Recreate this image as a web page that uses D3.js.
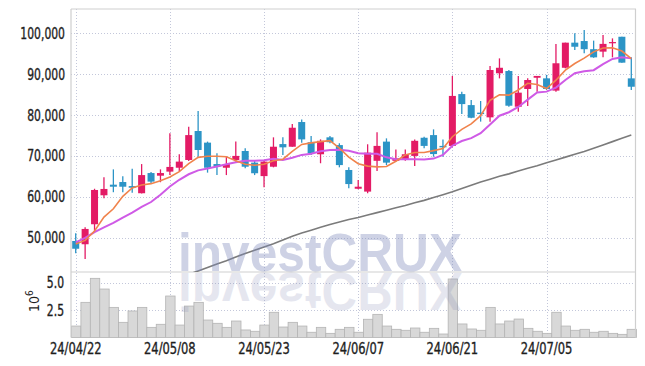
<!DOCTYPE html>
<html>
<head>
<meta charset="utf-8">
<script src="https://cdn.jsdelivr.net/npm/d3@7"></script>
<style>
  body { margin: 0; background: #fff; }
  svg { display: block; }
</style>
</head>
<body>
<div id="chart"></div>
<script>
// trading days shown on the chart
var dates = ["24/04/22","24/04/23","24/04/24","24/04/25","24/04/26","24/04/29","24/04/30","24/05/02","24/05/03","24/05/07",
  "24/05/08","24/05/09","24/05/10","24/05/13","24/05/14","24/05/16","24/05/17","24/05/20","24/05/21","24/05/22",
  "24/05/23","24/05/24","24/05/27","24/05/28","24/05/29","24/05/30","24/05/31","24/06/03","24/06/04","24/06/05",
  "24/06/07","24/06/10","24/06/11","24/06/12","24/06/13","24/06/14","24/06/17","24/06/18","24/06/19","24/06/20",
  "24/06/21","24/06/24","24/06/25","24/06/26","24/06/27","24/06/28","24/07/01","24/07/02","24/07/03","24/07/04",
  "24/07/05","24/07/08","24/07/09","24/07/10","24/07/11","24/07/12","24/07/15","24/07/16","24/07/17","24/07/18"];

var tickDates = ["24/04/22","24/05/08","24/05/23","24/06/07","24/06/21","24/07/05"];
var priceTicks = [50000, 60000, 70000, 80000, 90000, 100000];
var volTicks = [2.5, 5.0];

var open  = [49150,48350,53250,60350,62950,63600,62600,60850,65800,65150,
  66150,67100,69000,76100,73250,68000,67100,69000,71200,68350,
  65050,67350,72900,72250,78300,73350,70400,74550,72650,66550,
  61950,61250,68800,73500,68800,69250,70000,74450,75100,72450,
  72450,85150,82450,80600,79450,90250,90800,82050,86400,89150,
  89000,86000,91600,97750,98150,96150,95550,97600,99200,89000];
var high  = [51050,52500,61950,64750,66700,65000,66850,68000,66050,66700,
  75550,70400,77150,81000,73500,70650,69800,73500,71850,69000,
  69000,74550,74550,77800,78950,74900,74050,74900,73100,67200,
  64100,72850,75800,74300,71600,71600,74050,74700,76500,74050,
  89600,85750,83700,83450,92050,93900,91050,89600,89000,89600,
  89850,97450,97750,100050,100850,98250,99650,98800,99200,94150];
var low   = [46150,44750,51400,59600,61100,61100,61000,60800,63300,63550,
  65300,66150,68750,69800,65900,65300,65300,68600,66950,65300,
  62300,67200,70200,72250,73250,70200,68200,73100,67200,62050,
  61800,60850,66300,67750,68600,68800,67500,71850,69800,69800,
  72100,80250,79200,78400,78400,89000,82050,80850,82250,85750,
  86150,85750,91450,95950,95150,94050,94150,94150,92850,86150];
var close = [47250,52100,61650,61900,62450,62450,62200,65300,63700,65800,
  67300,68600,75100,71450,67100,67350,68000,70000,67350,65750,
  68600,72250,72100,76900,74050,70650,73700,73350,67750,63100,
  62450,70800,72450,68350,69400,70400,73700,72450,70450,72100,
  84700,82700,79350,80250,91050,91600,82300,85500,88600,89600,
  86400,92700,97750,96750,96150,94150,97450,97900,92850,86950];

// volume in millions of shares
var volume = [1.05,3.22,5.42,4.44,2.76,1.39,2.43,2.76,0.93,1.21,
  3.80,1.14,2.88,3.22,1.60,1.30,0.93,1.51,0.69,0.57,
  1.14,2.31,0.96,1.39,1.05,0.48,0.93,0.38,0.75,0.93,
  0.48,1.67,2.12,1.05,0.75,0.66,0.87,0.48,0.84,0.32,
  5.36,1.24,0.78,0.66,2.76,1.24,1.51,1.69,0.84,0.57,
  0.38,2.31,1.05,0.66,0.75,0.48,0.57,0.38,0.29,0.75];

// moving averages as drawn
var ma5 = [48400,49300,51600,55000,57050,60100,62150,62850,63200,63900,
  64850,66150,68100,69650,69900,69900,69800,68800,67950,67700,
  67950,68800,69200,71100,72800,73200,73500,73750,71900,69700,
  68100,67500,67300,67400,68700,70250,70850,70850,71300,71800,
  74700,76500,77850,79850,83600,85000,84900,86150,87800,87500,
  86500,88550,91000,92650,93950,95500,96450,96500,95700,93850];
var ma10 = [48800,49900,51300,52500,53600,54900,56100,57500,58700,60500,
  62500,64150,65500,66450,66900,67400,67950,68450,68800,68800,
  68950,69300,69000,69550,70250,70550,71150,71450,71500,71250,
  70650,70500,70500,69650,69200,69150,69150,69100,69350,70250,
  72500,73650,74350,75550,77700,79850,80700,82000,83800,85550,
  85750,86750,88600,90250,90750,91000,92500,93750,94150,93900];
var maLong = [null,null,null,null,null,null,null,null,null,null,
  null,null,41000,41800,42650,43500,44300,45250,46100,46900,
  47700,48500,49400,50300,51100,51800,52500,53200,53800,54400,
  54900,55500,56100,56700,57300,57850,58500,59100,59800,60500,
  61200,62000,62800,63600,64300,65000,65600,66300,67000,67600,
  68300,69000,69700,70400,71100,71900,72700,73500,74300,75100];

var W = 645, H = 366;
var plotLeft = 71, plotRight = 636, plotTop = 9, priceBottom = 272, volBottom = 337.5;
var upColor = "#e31b65", downColor = "#2c94c6";
var labelFont = "'DejaVu Sans Condensed','DejaVu Sans',sans-serif";
var squeeze = 0.8;   // the labels are set in a narrow face

var svg = d3.select("#chart").append("svg").attr("width", W).attr("height", H);

var x = d3.scaleBand().domain(dates).range([plotLeft, plotRight]).padding(0);
var bw = x.bandwidth();
var cx = function(d) { return x(d) + bw / 2; };

var y = d3.scaleLinear().domain([41550, 106000]).range([priceBottom, plotTop]);
var yv = d3.scaleLinear().domain([0, 6]).range([volBottom, priceBottom]);

svg.append("defs").append("clipPath").attr("id", "priceClip")
  .append("rect").attr("x", plotLeft).attr("y", plotTop).attr("width", plotRight - plotLeft).attr("height", priceBottom - plotTop);

// grid
var grid = svg.append("g").attr("stroke", "#c3c7da").attr("stroke-dasharray", "1,2").attr("stroke-width", 1);
grid.selectAll(".hp").data(priceTicks).enter().append("line")
  .attr("x1", plotLeft).attr("x2", plotRight).attr("y1", function(d) { return Math.round(y(d)) + 0.5; }).attr("y2", function(d) { return Math.round(y(d)) + 0.5; });
grid.selectAll(".hv").data(volTicks).enter().append("line")
  .attr("x1", plotLeft).attr("x2", plotRight).attr("y1", function(d) { return Math.round(yv(d)) + 0.5; }).attr("y2", function(d) { return Math.round(yv(d)) + 0.5; });
grid.selectAll(".vx").data(tickDates).enter().append("line")
  .attr("y1", plotTop).attr("y2", volBottom).attr("x1", function(d) { return Math.round(cx(d)) + 0.5; }).attr("x2", function(d) { return Math.round(cx(d)) + 0.5; });

// volume bars
svg.append("g").selectAll("rect").data(dates).enter().append("rect")
  .attr("x", function(d) { return x(d) + 0.5; })
  .attr("width", bw)
  .attr("y", function(d, i) { return yv(volume[i]); })
  .attr("height", function(d, i) { return volBottom - yv(volume[i]); })
  .attr("fill", "#d8d8d8").attr("stroke", "#b4b4b4").attr("stroke-width", 0.8);

// frame
var frame = svg.append("g").attr("stroke", "#cfcfcf").attr("stroke-width", 1.2).attr("fill", "none");
frame.append("line").attr("x1", plotLeft).attr("x2", plotRight).attr("y1", plotTop).attr("y2", plotTop);
frame.append("line").attr("x1", plotLeft).attr("x2", plotLeft).attr("y1", plotTop).attr("y2", volBottom);
frame.append("line").attr("x1", plotRight - 0.5).attr("x2", plotRight - 0.5).attr("y1", plotTop).attr("y2", volBottom);
frame.append("line").attr("x1", plotLeft).attr("x2", plotRight).attr("y1", priceBottom).attr("y2", priceBottom);

var plot = svg.append("g").attr("clip-path", "url(#priceClip)");

// long moving average
plot.append("path").datum(maLong)
  .attr("fill", "none").attr("stroke", "#7b7b7b").attr("stroke-width", 1.6)
  .attr("d", d3.line().defined(function(d) { return d != null; })
    .x(function(d, i) { return cx(dates[i]); }).y(function(d) { return y(d); }));

// candles
var candle = plot.selectAll(".candle").data(dates).enter().append("g")
  .attr("fill", function(d, i) { return close[i] >= open[i] ? upColor : downColor; })
  .attr("stroke", function(d, i) { return close[i] >= open[i] ? upColor : downColor; });
candle.append("line")
  .attr("x1", function(d) { return cx(d); }).attr("x2", function(d) { return cx(d); })
  .attr("y1", function(d, i) { return y(high[i]); }).attr("y2", function(d, i) { return y(low[i]); })
  .attr("stroke-width", 1.3);
candle.append("rect")
  .attr("x", function(d) { return cx(d) - 3.5; }).attr("width", 7)
  .attr("y", function(d, i) { return y(Math.max(open[i], close[i])); })
  .attr("height", function(d, i) { return Math.max(1.2, Math.abs(y(open[i]) - y(close[i]))); })
  .attr("stroke", "none");

// short moving averages
var maLine = d3.line().x(function(d, i) { return cx(dates[i]); }).y(function(d) { return y(d); });
plot.append("path").datum(ma10).attr("fill", "none").attr("stroke", "#cf5ae6").attr("stroke-width", 2).attr("d", maLine);
plot.append("path").datum(ma5).attr("fill", "none").attr("stroke", "#f0834c").attr("stroke-width", 1.6).attr("d", maLine);

// axis labels (narrowed horizontally)
function label(g, px, py, anchor, txt, size) {
  return g.append("text")
    .attr("transform", "translate(" + px + "," + py + ") scale(" + squeeze + ",1)")
    .attr("text-anchor", anchor).attr("font-family", labelFont).attr("font-size", size)
    .attr("fill", "#1e1e1e").attr("stroke", "#1e1e1e").attr("stroke-width", 0.35)
    .text(txt);
}
var labels = svg.append("g");
priceTicks.forEach(function(d) { label(labels, 65, y(d) + 5.5, "end", d3.format(",")(d), 15); });
volTicks.forEach(function(d) { label(labels, 64, yv(d) + 5.5, "end", d3.format(".1f")(d), 15); });
tickDates.forEach(function(d) { label(labels, cx(d), 354, "middle", d, 16); });

var unit = svg.append("text").attr("transform", "translate(39,312) rotate(-90)")
  .attr("font-family", labelFont).attr("font-size", 14).attr("fill", "#1e1e1e");
unit.append("tspan").text("10");
unit.append("tspan").attr("dy", -6).attr("font-size", 10).text("6");

// watermark and its reflection
var wm = svg.append("g").attr("pointer-events", "none");
wm.append("text").attr("x", 178).attr("y", 271)
  .attr("font-family", "'Liberation Sans',Arial,sans-serif").attr("font-weight", "bold").attr("font-size", 54)
  .attr("textLength", 284).attr("lengthAdjust", "spacingAndGlyphs")
  .attr("fill", "#7f8bbd").attr("opacity", 0.38).text("investCRUX");
wm.append("text").attr("x", 178).attr("y", 271)
  .attr("transform", "translate(0,544) scale(1,-1)")
  .attr("font-family", "'Liberation Sans',Arial,sans-serif").attr("font-weight", "bold").attr("font-size", 54)
  .attr("textLength", 284).attr("lengthAdjust", "spacingAndGlyphs")
  .attr("fill", "#8288b2").attr("opacity", 0.2).text("investCRUX");
</script>
</body>
</html>
